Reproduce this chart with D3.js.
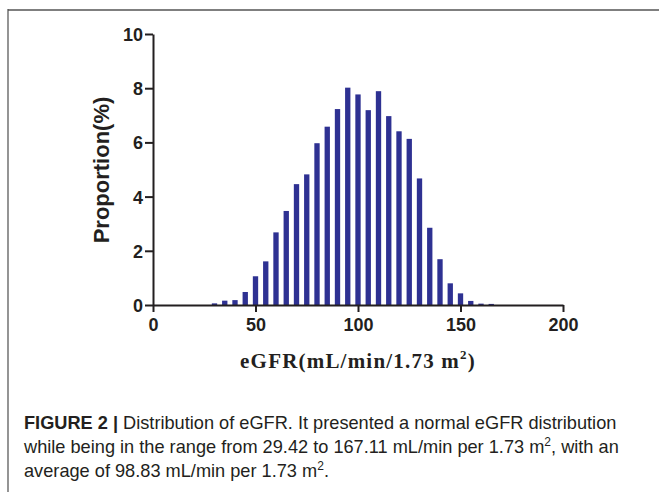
<!DOCTYPE html>
<html>
<head>
<meta charset="utf-8">
<script src="https://cdn.jsdelivr.net/npm/d3@7"></script>
<style>
  html, body { margin: 0; padding: 0; background: #fff; }
  svg { display: block; }
</style>
</head>
<body>
<svg id="chart" width="659" height="492"></svg>
<script>
// eGFR bin centres (mL/min/1.73 m2) and proportion of patients (%)
const binCenters = [30, 35, 40, 45, 50, 55, 60, 65, 70, 75, 80, 85, 90, 95,
  100, 105, 110, 115, 120, 125, 130, 135, 140, 145, 150, 155, 160, 165];
const proportions = [0.06, 0.16, 0.18, 0.48, 1.06, 1.61, 2.68, 3.47, 4.46, 4.82,
  5.97, 6.58, 7.23, 8.02, 7.77, 7.19, 7.89, 6.97, 6.41, 6.13, 4.67, 2.85,
  1.69, 0.80, 0.43, 0.15, 0.05, 0.04];
const xTicks = [0, 50, 100, 150, 200];
const yTicks = [0, 2, 4, 6, 8, 10];

const captionLines = [
  [{ t: "FIGURE 2 |", bold: true }, { t: " Distribution of eGFR. It presented a normal eGFR distribution" }],
  [{ t: "while being in the range from 29.42 to 167.11 mL/min per 1.73 m" }, { t: "2", sup: true }, { t: ", with an" }],
  [{ t: "average of 98.83 mL/min per 1.73 m" }, { t: "2", sup: true }, { t: "." }],
];

const svg = d3.select("svg#chart");
const ink = "#231f20";
const barColor = "#2e3192";

// frame lines of the figure panel
svg.append("line").attr("x1", 8).attr("x2", 659).attr("y1", 10).attr("y2", 10)
  .attr("stroke", "#7f7f7f").attr("stroke-width", 2);
svg.append("line").attr("x1", 8).attr("x2", 8).attr("y1", 9).attr("y2", 492)
  .attr("stroke", "#4d4d4d").attr("stroke-width", 1.2);

const x = d3.scaleLinear().domain([0, 200]).range([153, 563]);
const y = d3.scaleLinear().domain([0, 10]).range([305, 34]);
const barW = x(2.6) - x(0);

svg.append("g")
  .selectAll("rect")
  .data(binCenters)
  .join("rect")
  .attr("x", (d) => x(d) - barW / 2)
  .attr("width", barW)
  .attr("y", (d, i) => y(proportions[i]))
  .attr("height", (d, i) => y(0) - y(proportions[i]))
  .attr("fill", barColor);

const xAxis = svg.append("g")
  .attr("transform", `translate(0,${y(0)})`)
  .call(d3.axisBottom(x).tickValues(xTicks).tickSize(7).tickSizeOuter(0).tickPadding(6));
const yAxis = svg.append("g")
  .attr("transform", `translate(${x(0)},0)`)
  .call(d3.axisLeft(y).tickValues(yTicks).tickSize(8).tickSizeOuter(0).tickPadding(2));

[xAxis, yAxis].forEach((g) => {
  g.selectAll("path, line").attr("stroke", ink).attr("stroke-width", 2);
  g.selectAll("text")
    .attr("fill", ink)
    .style("font-family", "Liberation Sans, Arial, sans-serif")
    .style("font-weight", "bold")
    .style("font-size", "18px");
});
yAxis.selectAll("text").attr("dy", "0.36em");

// y title
svg.append("text")
  .attr("transform", "translate(109,170) rotate(-90)")
  .attr("text-anchor", "middle")
  .attr("fill", ink)
  .style("font-family", "Liberation Sans, Arial, sans-serif")
  .style("font-weight", "bold")
  .style("font-size", "22px")
  .text("Proportion(%)");

// x title
const xt = svg.append("text")
  .attr("x", 358)
  .attr("y", 368)
  .attr("text-anchor", "middle")
  .attr("fill", ink)
  .style("font-family", "Liberation Serif, Times New Roman, serif")
  .style("font-weight", "bold")
  .style("font-size", "21px")
  .style("letter-spacing", "1.2px");
xt.append("tspan").text("eGFR(mL/min/1.73 m");
xt.append("tspan").attr("dy", -9).style("font-size", "13px").text("2");
xt.append("tspan").attr("dy", 9).text(")");

// caption
const cap = svg.append("g")
  .style("font-family", "Liberation Sans Narrow, Arial Narrow, sans-serif")
  .style("font-size", "18.2px")
  .attr("fill", ink);
captionLines.forEach((parts, i) => {
  const t = cap.append("text").attr("x", 24).attr("y", 429 + i * 24);
  let lifted = false;
  parts.forEach((p) => {
    const s = t.append("tspan").text(p.t);
    if (p.bold) s.style("font-weight", "bold");
    if (p.sup) {
      s.attr("dy", -7).style("font-size", "12px");
      lifted = true;
    } else if (lifted) {
      s.attr("dy", 7);
      lifted = false;
    }
  });
});
</script>
</body>
</html>
